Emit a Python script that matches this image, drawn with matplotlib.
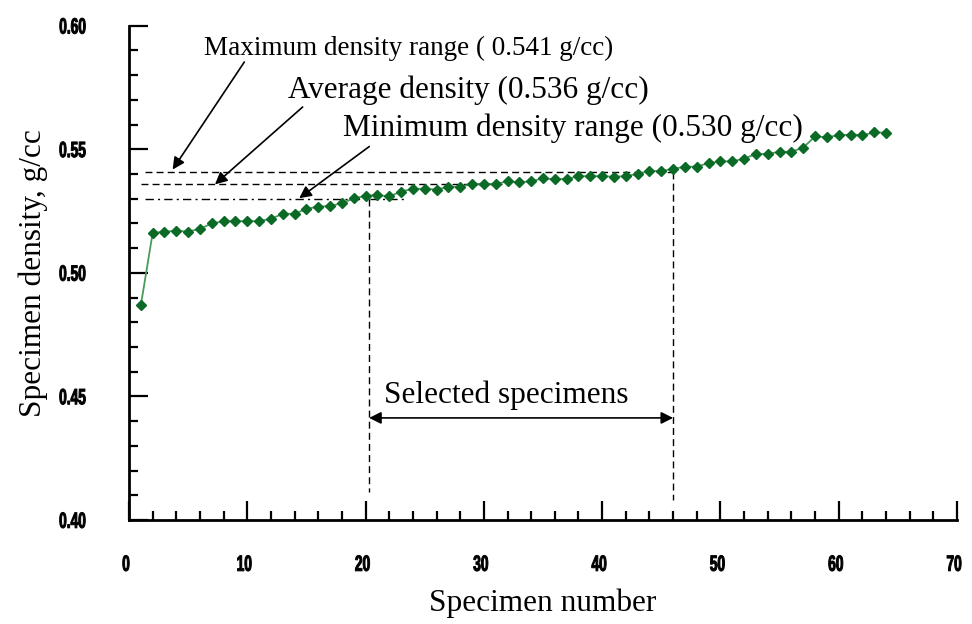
import matplotlib
matplotlib.use("Agg")
import matplotlib.pyplot as plt
from matplotlib.patheffects import AbstractPathEffect
from matplotlib.ticker import MultipleLocator
from matplotlib.transforms import Affine2D

# specimen densities, sorted ascending (g/cc)
specimen = list(range(1, 65))
density = [
    0.4868, 0.5161, 0.5167, 0.5170, 0.5167, 0.5178, 0.5200, 0.5209,
    0.5209, 0.5209, 0.5209, 0.5219, 0.5239, 0.5239, 0.5259, 0.5268,
    0.5270, 0.5282, 0.5301, 0.5312, 0.5315, 0.5309, 0.5329, 0.5340,
    0.5340, 0.5337, 0.5348, 0.5348, 0.5360, 0.5360, 0.5360, 0.5370,
    0.5366, 0.5371, 0.5382, 0.5379, 0.5380, 0.5391, 0.5391, 0.5391,
    0.5389, 0.5391, 0.5401, 0.5412, 0.5412, 0.5421, 0.5429, 0.5430,
    0.5444, 0.5451, 0.5451, 0.5462, 0.5481, 0.5481, 0.5490, 0.5490,
    0.5507, 0.5552, 0.5549, 0.5557, 0.5559, 0.5557, 0.5568, 0.5567,
]

max_range = 0.541
avg_density = 0.536
min_range = 0.530
first_selected = 20.3
last_selected = 46

x_ticks = [0, 10, 20, 30, 40, 50, 60, 70]
y_ticks = [0.40, 0.45, 0.50, 0.55, 0.60]
y_ticklabels = ["0.40", "0.45", "0.50", "0.55", "0.60"]

serif = ["Liberation Serif", "DejaVu Serif"]


class Condensed(AbstractPathEffect):
    """Draw a text path narrower and taller, fattened with a stroke."""

    def __init__(self, sx, sy, lw=0.7, anchor="center", dx=0):
        super().__init__()
        self.sx, self.sy = sx, sy
        self.lw = lw
        self.anchor = anchor
        self.dx = dx

    def draw_path(self, renderer, gc, tpath, affine, rgbFace=None):
        ext = tpath.transformed(affine).get_extents()
        cx = ext.x1 if self.anchor == "right" else (ext.x0 + ext.x1) / 2
        cy = (ext.y0 + ext.y1) / 2
        tr = affine + (Affine2D().translate(-cx, -cy)
                       .scale(self.sx, self.sy)
                       .translate(cx + self.dx, cy))
        gc0 = renderer.new_gc()
        gc0.copy_properties(gc)
        gc0.set_linewidth(self.lw)
        gc0.set_foreground(rgbFace)
        renderer.draw_path(gc0, tpath, tr, rgbFace)
        gc0.restore()


fig = plt.figure(figsize=(9.72, 6.24), dpi=100)
ax = fig.add_axes([0.1327, 0.1667, 0.8519, 0.7921])
ax.set_xlim(0, 70)
ax.set_ylim(0.40, 0.60)

for side in ("top", "right"):
    ax.spines[side].set_visible(False)
for side in ("left", "bottom"):
    ax.spines[side].set_linewidth(2)

ax.set_xticks(x_ticks)
ax.xaxis.set_minor_locator(MultipleLocator(2))
ax.set_yticks(y_ticks)
ax.set_yticklabels(y_ticklabels)
ax.yaxis.set_minor_locator(MultipleLocator(0.01))
ax.tick_params(which="major", direction="in", length=14, width=1.6)
ax.tick_params(which="minor", direction="in", length=6.5, width=1.6)
ax.tick_params(axis="x", which="major", pad=27)
ax.tick_params(axis="y", which="major", pad=31)
for lbl in ax.get_xticklabels() + ax.get_yticklabels():
    lbl.set_family(["Liberation Sans", "DejaVu Sans"])
    lbl.set_fontweight("bold")
    lbl.set_fontsize(11)
for lbl in ax.get_xticklabels():
    lbl.set_path_effects([Condensed(0.9, 1.45, dx=-3)])
for lbl in ax.get_yticklabels():
    lbl.set_path_effects([Condensed(0.9, 1.45, anchor="right")])

ax.set_xlabel("Specimen number", family=serif, fontsize=22.5)
ax.set_ylabel("Specimen density, g/cc", family=serif, fontsize=22.5)
ax.xaxis.set_label_coords(0.5, -0.138)
ax.yaxis.set_label_coords(-0.098, 0.5)

# density range reference lines
ax.plot([1.35, last_selected], [max_range, max_range], color="black",
        lw=1, ls=(0, (5, 3)))
ax.plot([1.05, 31.5], [avg_density, avg_density], color="black",
        lw=1, ls=(0, (5, 3)))
ax.plot([1.35, 23.5], [min_range, min_range], color="black",
        lw=1, ls=(0, (6, 3, 1.5, 3)))
ax.plot([first_selected, first_selected], [min_range, 0.4113], color="black",
        lw=1, ls=(0, (5, 3)))
ax.plot([last_selected, last_selected], [max_range, 0.408], color="black",
        lw=1, ls=(0, (5, 3)))

ax.plot(specimen, density, color="#4a9a5c", lw=1.3, marker="D", ms=5.6,
        mfc="#0b6a26", mec="#0b6a26", zorder=3)

arrow = dict(arrowstyle="-|>", color="black", lw=1.2, mutation_scale=18,
             shrinkA=0, shrinkB=0)
ax.annotate("", xy=(3.69, 0.5418), xytext=(9.75, 0.5853), arrowprops=arrow)
ax.annotate("", xy=(7.27, 0.5358), xytext=(14.68, 0.5671), arrowprops=arrow)
ax.annotate("", xy=(14.39, 0.5302), xytext=(20.31, 0.5511), arrowprops=arrow)

ax.text(6.34, 0.5883, "Maximum density range ( 0.541 g/cc)", family=serif,
        fontsize=19.5, va="baseline")
ax.text(13.44, 0.5707, "Average density (0.536 g/cc)", family=serif,
        fontsize=22.5, va="baseline")
ax.text(18.09, 0.5555, "Minimum density range (0.530 g/cc)", family=serif,
        fontsize=22.5, va="baseline")

ax.annotate("", xy=(first_selected, 0.4413), xytext=(last_selected, 0.4413),
            arrowprops=dict(arrowstyle="<|-|>", color="black", lw=1.2,
                            mutation_scale=18, shrinkA=0, shrinkB=0))
ax.text(21.56, 0.4474, "Selected specimens", family=serif, fontsize=22.5,
        va="baseline")

fig.savefig("out.png", dpi=100)
